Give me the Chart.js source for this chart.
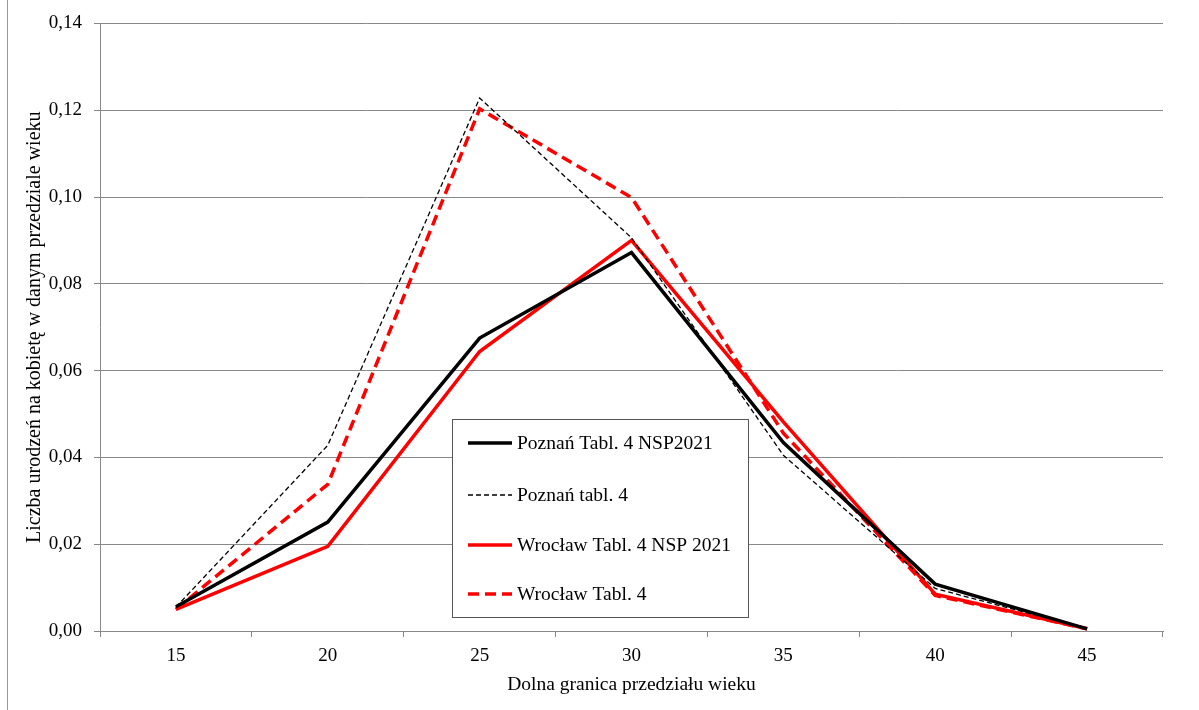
<!DOCTYPE html>
<html>
<head>
<meta charset="utf-8">
<script src="https://cdn.jsdelivr.net/npm/chart.js@4/dist/chart.umd.min.js"></script>
<style>
  html, body { margin: 0; padding: 0; background: #fff; }
  #wrap { width: 1199px; height: 710px; position: relative; }
</style>
</head>
<body>
<div id="wrap"><canvas id="chart" width="1199" height="710"></canvas></div>
<script>
// age groups (lower bound)
const ageLabels = ['15', '20', '25', '30', '35', '40', '45'];

const poznanNsp = [0.0056, 0.0251, 0.0675, 0.0872, 0.0434, 0.0108, 0.0005];
const poznanTabl = [0.0055, 0.0428, 0.1228, 0.0906, 0.0405, 0.0098, 0.0005];
const wroclawNsp = [0.0050, 0.0195, 0.0644, 0.0900, 0.0482, 0.0085, 0.0005];
const wroclawTabl = [0.0050, 0.0338, 0.1203, 0.0999, 0.0456, 0.0082, 0.0005];

const yTicks = [0, 0.02, 0.04, 0.06, 0.08, 0.10, 0.12, 0.14];

const serif = "'Liberation Serif', 'DejaVu Serif', serif";

// legend drawn inside the plot, like the original
const boxLegend = {
    id: 'boxLegend',
    afterDraw(chart) {
        const ctx = chart.ctx;
        const x = 452, y = 419, w = 296, h = 198;
        ctx.save();
        ctx.fillStyle = '#fff';
        ctx.fillRect(x, y, w, h);
        ctx.strokeStyle = '#555';
        ctx.lineWidth = 1;
        ctx.strokeRect(x + 0.5, y + 0.5, w, h);
        const rows = [443, 495, 545, 594];
        chart.data.datasets.forEach(function(ds, i) {
            const ly = rows[i];
            ctx.beginPath();
            ctx.setLineDash(ds.borderDash || []);
            ctx.strokeStyle = ds.borderColor;
            ctx.lineWidth = ds.borderWidth;
            ctx.moveTo(468, ly);
            ctx.lineTo(512, ly);
            ctx.stroke();
            ctx.setLineDash([]);
            ctx.fillStyle = '#000';
            ctx.font = '19.5px ' + serif;
            ctx.textBaseline = 'middle';
            ctx.textAlign = 'left';
            ctx.fillText(ds.label, 517, ly + 1);
        });
        ctx.restore();
    }
};

// thin frame line on the left side
const leftFrame = {
    id: 'leftFrame',
    beforeDraw(chart) {
        const ctx = chart.ctx;
        ctx.save();
        ctx.strokeStyle = '#999';
        ctx.lineWidth = 1;
        ctx.beginPath();
        ctx.moveTo(7.5, 0);
        ctx.lineTo(7.5, 710);
        ctx.stroke();
        ctx.restore();
    }
};

new Chart(document.getElementById('chart'), {
    type: 'line',
    data: {
        labels: ageLabels,
        datasets: [
            {
                label: 'Poznań Tabl. 4 NSP2021',
                data: poznanNsp,
                borderColor: '#000',
                borderWidth: 3.5,
                pointRadius: 0,
                tension: 0,
                fill: false
            },
            {
                label: 'Poznań tabl. 4',
                data: poznanTabl,
                borderColor: '#000',
                borderWidth: 1.3,
                borderDash: [5, 3],
                pointRadius: 0,
                tension: 0,
                fill: false
            },
            {
                label: 'Wrocław Tabl. 4 NSP 2021',
                data: wroclawNsp,
                borderColor: '#ff0000',
                borderWidth: 3.5,
                pointRadius: 0,
                tension: 0,
                fill: false
            },
            {
                label: 'Wrocław Tabl. 4',
                data: wroclawTabl,
                borderColor: '#ff0000',
                borderWidth: 3.5,
                borderDash: [11, 6],
                pointRadius: 0,
                tension: 0,
                fill: false
            }
        ]
    },
    options: {
        responsive: false,
        animation: false,
        devicePixelRatio: 1,
        layout: { padding: { top: 21, right: 36, left: 0, bottom: 0 } },
        plugins: {
            legend: { display: false },
            tooltip: { enabled: false }
        },
        scales: {
            x: {
                offset: true,
                afterFit: function(scale) { scale.height = 79; },
                grid: {
                    offset: true,
                    drawOnChartArea: false,
                    drawTicks: true,
                    tickLength: 6,
                    color: '#888'
                },
                border: { color: '#888', width: 1 },
                ticks: {
                    color: '#000',
                    font: { family: serif, size: 19 },
                    padding: 8,
                    maxRotation: 0
                },
                title: {
                    display: true,
                    text: 'Dolna granica przedziału wieku',
                    color: '#000',
                    font: { family: serif, size: 19.5 },
                    padding: { top: 2, bottom: 13 }
                }
            },
            y: {
                min: 0,
                max: 0.14,
                afterFit: function(scale) { scale.width = 100; },
                afterBuildTicks: function(scale) {
                    scale.ticks = yTicks.map(v => ({ value: v }));
                },
                grid: {
                    color: '#888',
                    drawTicks: true,
                    tickLength: 6
                },
                border: { color: '#888', width: 1 },
                ticks: {
                    color: '#000',
                    font: { family: serif, size: 19 },
                    padding: 12,
                    callback: function(v) { return v.toFixed(2).replace('.', ','); }
                },
                title: {
                    display: true,
                    text: 'Liczba urodzeń na kobietę w danym przedziale wieku',
                    color: '#000',
                    font: { family: serif, size: 20 },
                    padding: { top: 23, bottom: 0 }
                }
            }
        }
    },
    plugins: [leftFrame, boxLegend]
});
</script>
</body>
</html>
